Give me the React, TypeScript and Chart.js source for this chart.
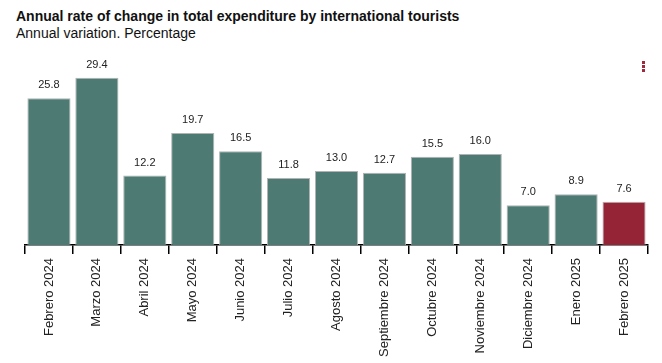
import React, { useEffect, useRef } from "react";
import { Chart, registerables } from "chart.js";

Chart.register(...registerables);

const categories = [
  "Febrero 2024", "Marzo 2024", "Abril 2024", "Mayo 2024", "Junio 2024", "Julio 2024",
  "Agosto 2024", "Septiembre 2024", "Octubre 2024", "Noviembre 2024", "Diciembre 2024",
  "Enero 2025", "Febrero 2025",
];
const values = [25.8, 29.4, 12.2, 19.7, 16.5, 11.8, 13.0, 12.7, 15.5, 16.0, 7.0, 8.9, 7.6];
const barColors = values.map((_, i) => (i === values.length - 1 ? "#962437" : "#4d7b74"));

const labelPlugin = {
  id: "valueLabels",
  afterDatasetsDraw(chart: any) {
    const ctx = chart.ctx;
    const meta = chart.getDatasetMeta(0);
    ctx.save();
    ctx.font = "11px 'Liberation Sans', Arial, sans-serif";
    ctx.fillStyle = "#222";
    ctx.textAlign = "center";
    ctx.textBaseline = "middle";
    meta.data.forEach((bar: any, i: number) => {
      ctx.fillText(values[i].toFixed(1), bar.x, bar.y - 13);
    });
    ctx.restore();
  },
};

export default function App() {
  const ref = useRef<HTMLCanvasElement>(null);
  useEffect(() => {
    document.body.style.margin = "0";
    const chart = new Chart(ref.current!, {
      type: "bar",
      data: {
        labels: categories,
        datasets: [
          {
            data: values,
            backgroundColor: barColors,
            borderColor: "rgba(170,170,170,0.9)",
            borderWidth: 1,
            borderSkipped: "bottom",
            barPercentage: 0.9,
            categoryPercentage: 1,
          },
        ],
      },
      options: {
        animation: false,
        responsive: false,
        maintainAspectRatio: false,
        layout: { padding: { top: 63, left: 25, right: 14, bottom: 2 } },
        plugins: { legend: { display: false }, tooltip: { enabled: false }, title: { display: false } },
        scales: {
          x: {
            offset: true,
            grid: {
              offset: true,
              drawOnChartArea: false,
              drawTicks: true,
              tickLength: 9,
              color: "#000",
              tickColor: "#000",
              lineWidth: 1.5,
            },
            border: { display: true, color: "#000", width: 1.5 },
            ticks: {
              color: "#222",
              font: { size: 13, family: "'Liberation Sans', Arial, sans-serif" },
              minRotation: 90,
              maxRotation: 90,
              autoSkip: false,
              padding: 4,
            },
          },
          y: { display: false, min: 0, max: 32 },
        },
      },
      plugins: [labelPlugin],
    });
    return () => chart.destroy();
  }, []);

  return (
    <div style={{ position: "relative", width: 662, height: 363, fontFamily: "'Liberation Sans', Arial, sans-serif" }}>
      <div style={{ position: "absolute", left: 16, top: 8, fontSize: 14, fontWeight: "bold", color: "#111" }}>
        Annual rate of change in total expenditure by international tourists
      </div>
      <div style={{ position: "absolute", left: 16, top: 25, fontSize: 14, color: "#111" }}>
        Annual variation. Percentage
      </div>
      <canvas ref={ref} width={662} height={363} style={{ position: "absolute", left: 0, top: 0 }} />
      <div style={{ position: "absolute", left: 642, top: 61 }}>
        {[0, 1, 2].map((i) => (
          <div key={i} style={{ width: 3, height: 3, background: "#a0283c", marginBottom: 1 }} />
        ))}
      </div>
    </div>
  );
}
